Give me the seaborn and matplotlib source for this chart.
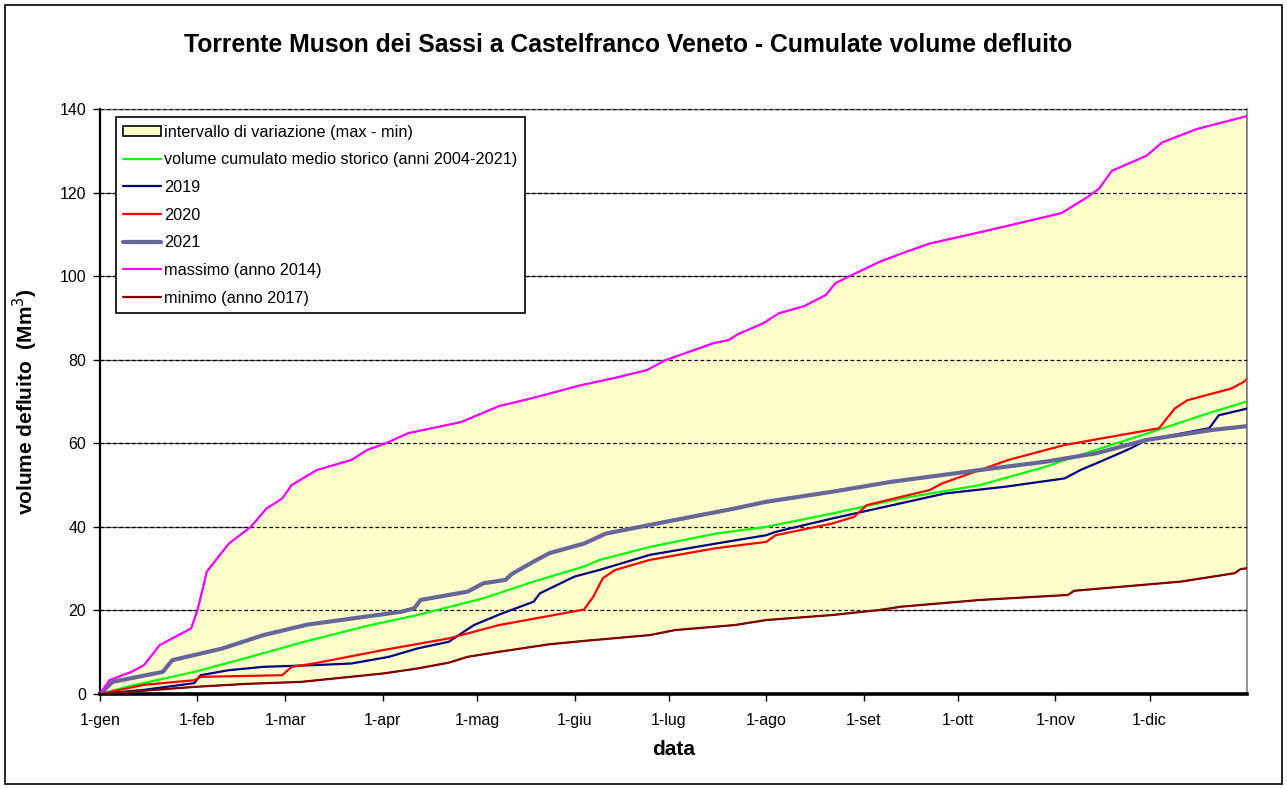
import numpy as np
import pandas as pd
import matplotlib
matplotlib.use('Agg')
import matplotlib.pyplot as plt
import seaborn as sns
from matplotlib.patches import Patch, Rectangle
from matplotlib.lines import Line2D

# day of year (0 = 1 gen) and cumulated volume (Mm3)
max_day = [0, 3, 10, 14, 19, 29, 31, 34, 41, 48, 53, 58, 61, 69, 80, 85, 91, 98, 115, 127,
           137, 153, 163, 174, 180, 195, 200, 203, 211, 216, 224, 231, 234, 238, 248, 255,
           264, 280, 296, 306, 314, 318, 322, 333, 338, 349, 365]
max_val = [0, 3.3, 5.3, 6.9, 11.7, 15.7, 20, 29.3, 36, 40, 44.4, 46.8, 50, 53.6, 56, 58.4, 60,
           62.4, 65.1, 68.9, 70.7, 73.9, 75.5, 77.5, 79.9, 83.9, 84.7, 86.1, 88.7, 91.1, 92.8,
           95.5, 98.3, 99.8, 103.4, 105.4, 107.8, 110.5, 113.3, 115.1, 118.8, 121, 125.2,
           128.8, 132, 135.2, 138.3]

min_day = [0, 14, 30, 46, 64, 90, 101, 111, 117, 127, 143, 154, 175, 183, 202, 212, 233, 248,
           255, 280, 308, 310, 344, 361, 363, 365]
min_val = [0, 0.8, 1.7, 2.4, 2.9, 4.9, 6.1, 7.5, 8.9, 10.1, 11.9, 12.7, 14.1, 15.3, 16.5, 17.7,
           18.9, 20.1, 20.9, 22.5, 23.7, 24.7, 26.9, 28.9, 29.9, 30.1]

mean_day = [0, 9, 30, 46, 64, 85, 101, 122, 138, 154, 159, 175, 196, 212, 233, 255, 280, 301,
            307, 333, 354, 365]
mean_val = [0, 1.8, 5.3, 8.5, 12.3, 16.3, 18.9, 22.9, 26.9, 30.5, 32.1, 35.2, 38.4, 40, 43.2,
            46.8, 50, 54.4, 56, 62.3, 67.5, 70]

y2019_day = [0, 14, 30, 32, 41, 52, 68, 80, 92, 101, 111, 119, 127, 138, 140, 151, 159, 175,
             196, 212, 215, 233, 248, 269, 288, 307, 312, 322, 328, 333, 353, 356, 365]
y2019_val = [0, 1, 2.6, 4.5, 5.7, 6.5, 6.9, 7.3, 8.9, 10.9, 12.5, 16.5, 19, 22.1, 24.1, 28.1,
             29.7, 33.3, 36, 38, 38.8, 42, 44.5, 48, 49.6, 51.6, 53.6, 56.8, 58.8, 60.8, 63.6,
             66.7, 68.3]

y2020_day = [0, 14, 30, 32, 58, 61, 68, 90, 111, 127, 154, 157, 160, 164, 175, 196, 212, 215,
             233, 240, 244, 255, 264, 268, 283, 289, 307, 337, 342, 346, 360, 364, 365]
y2020_val = [0, 2.2, 3.3, 4.1, 4.5, 6.5, 7.3, 10.5, 13.3, 16.5, 20.2, 23.3, 27.7, 29.7, 32.1,
             34.9, 36.4, 38, 40.8, 42.4, 45.2, 47.2, 48.8, 50.4, 54.4, 56, 59.6, 63.6, 68.3,
             70.3, 73.1, 74.7, 75.4]

y2021_day = [0, 4, 20, 23, 39, 52, 66, 96, 100, 102, 117, 122, 129, 131, 138, 143, 154, 161,
             180, 202, 212, 233, 252, 280, 301, 317, 333, 354, 365]
y2021_val = [0, 2.9, 5.3, 8.1, 10.9, 14.1, 16.6, 19.7, 20.5, 22.5, 24.5, 26.5, 27.3, 28.7,
             31.7, 33.7, 36, 38.4, 41.2, 44.4, 46, 48.4, 50.8, 53.6, 55.6, 57.6, 60.8, 63.2, 64.1]

month_day = [0, 31, 59, 90, 120, 151, 181, 212, 243, 273, 304, 334]
month_lab = ['1-gen', '1-feb', '1-mar', '1-apr', '1-mag', '1-giu', '1-lug', '1-ago',
             '1-set', '1-ott', '1-nov', '1-dic']

sns.set_style('white')
plt.rcParams['font.family'] = ['Liberation Sans', 'DejaVu Sans']
plt.rcParams['text.color'] = 'black'
plt.rcParams['axes.labelcolor'] = 'black'
plt.rcParams['xtick.color'] = 'black'
plt.rcParams['ytick.color'] = 'black'

fig = plt.figure(figsize=(12.87, 7.89), dpi=100)
ax = fig.add_axes([100 / 1287, 1 - 694 / 789, 1147 / 1287, 585 / 789])

# envelope max - min
env_x = max_day + min_day[::-1]
env_y = max_val + min_val[::-1]
ax.fill(env_x, env_y, facecolor='#FFFFCC', edgecolor='black', lw=0.9, zorder=1)

series = [
    (mean_day, mean_val, '#00FF00', 1.6),
    (y2019_day, y2019_val, '#000080', 1.6),
    (y2020_day, y2020_val, '#FF0000', 1.6),
    (y2021_day, y2021_val, '#666699', 3.0),
    (max_day, max_val, '#FF00FF', 1.6),
    (min_day, min_val, '#800000', 1.6),
]
for d, v, c, w in series:
    sns.lineplot(x=d, y=v, color=c, lw=w, ax=ax, zorder=3, sort=False)

ax.set_xlim(0, 365)
ax.set_ylim(0, 140)
ax.set_xticks(month_day)
ax.set_xticklabels(month_lab)
ax.set_yticks(np.arange(0, 141, 20))

# gridlines: solid grey under the fill, dashed black over it
ax.hlines(ax.get_yticks()[1:], 0, 365, colors='#555555', lw=0.9, zorder=0.5)
ax.set_axisbelow(False)
ax.yaxis.grid(True, color='black', ls=(0, (3, 2)), lw=0.9)
ax.xaxis.grid(False)

ax.tick_params(axis='both', direction='out', length=5, width=1, color='black',
               labelsize=11.5, left=True, bottom=True)
ax.tick_params(axis='x', pad=9)
ax.tick_params(axis='y', pad=5)
ax.spines['left'].set_color('black')
ax.spines['left'].set_linewidth(1.6)
ax.spines['bottom'].set_color('black')
ax.spines['bottom'].set_linewidth(2.6)
ax.spines['top'].set_color('#808080')
ax.spines['top'].set_linewidth(1)
ax.spines['right'].set_color('#808080')
ax.spines['right'].set_linewidth(1.2)

ax.set_xlabel('data', fontsize=15, fontweight='bold')
ax.set_ylabel('volume defluito  (Mm$^3$)', fontsize=15, fontweight='bold')
ax.xaxis.set_label_coords(0.5, -0.078)
ax.yaxis.set_label_coords(-0.052, 0.5)

fig.text(628 / 1287, 1 - 45 / 789,
         'Torrente Muson dei Sassi a Castelfranco Veneto - Cumulate volume defluito',
         ha='center', va='center', fontsize=17.8, fontweight='bold')

handles = [Patch(facecolor='#FFFFCC', edgecolor='black', lw=1.2)]
handles += [Line2D([], [], color=c, lw=w) for _, _, c, w in series]
labels = ['intervallo di variazione (max - min)',
          'volume cumulato medio storico (anni 2004-2021)',
          '2019', '2020', '2021', 'massimo (anno 2014)', 'minimo (anno 2017)']
leg = ax.legend(handles, labels, loc='upper left', bbox_to_anchor=(0.014, 0.986),
                borderaxespad=0, fancybox=False, framealpha=1, edgecolor='black',
                fontsize=11.7, handlelength=2.3, handleheight=0.6, handletextpad=0.2,
                labelspacing=0.78, borderpad=0.45)
leg.get_frame().set_linewidth(1.2)
leg.set_zorder(5)

fig.patches.append(Rectangle((5 / 1287, 5 / 789), 1 - 10 / 1287, 1 - 10 / 789,
                             transform=fig.transFigure, fill=False, edgecolor='black',
                             lw=1.2))

fig.savefig('out.png', dpi=100)
